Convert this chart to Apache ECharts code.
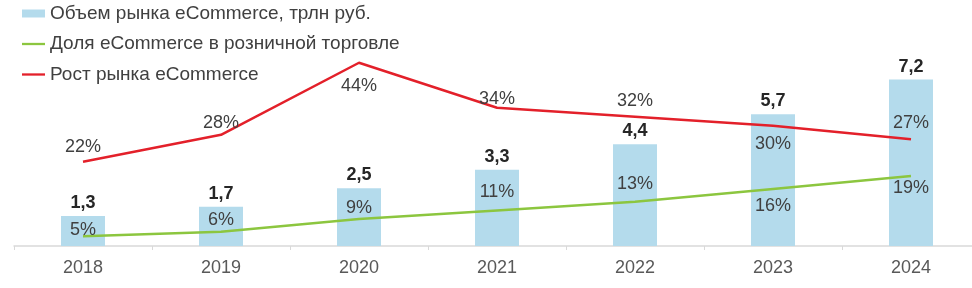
<!DOCTYPE html>
<html>
<head>
<meta charset="utf-8">
<script src="https://cdn.jsdelivr.net/npm/echarts@6/dist/echarts.min.js"></script>
<style>
  html, body { margin: 0; padding: 0; background: #fff; overflow: hidden; }
  /* a bit wider than the window: the right edge of the axis is cut in the original too */
  #chart { width: 980px; height: 288px; }
</style>
</head>
<body>
<div id="chart"></div>
<script>
// data
const years = ['2018', '2019', '2020', '2021', '2022', '2023', '2024'];
const marketVolume = [1.3, 1.7, 2.5, 3.3, 4.4, 5.7, 7.2];   // трлн руб.
const retailShare = [5, 6, 9, 11, 13, 16, 19];               // %
const marketGrowth = [22, 28, 44, 34, 32, 30, 27];           // %

const seriesNames = [
  'Объем рынка eCommerce, трлн руб.',
  'Доля eCommerce в розничной торговле',
  'Рост рынка eCommerce'
];

// label placement (vertical offset from the point, px)
const shareLabelDy = [-6, -12, -11, -18, -18, 17, 12];
const growthLabelDy = [-15, -12, 23, -9, -16, 18, -16];

const FONT = 'Liberation Sans, Arial, sans-serif';
const TEXT = '#404040';

function withLabelOffsets(values, offsets) {
  return values.map((v, i) => ({ value: v, label: { offset: [0, offsets[i]] } }));
}

const myChart = echarts.init(document.getElementById('chart'));

const lineIcon = 'path://M0,0 L24,0 L24,2.4 L0,2.4 Z';

const option = {
  animation: false,
  textStyle: { fontFamily: FONT },
  legend: {
    orient: 'vertical',
    left: 17,
    top: -1,
    itemWidth: 23,
    itemHeight: 8,
    itemGap: 11.5,
    textStyle: { fontSize: 19, color: TEXT, fontFamily: FONT },
    data: [
      { name: seriesNames[0], icon: 'rect' },
      { name: seriesNames[1], icon: lineIcon },
      { name: seriesNames[2], icon: lineIcon }
    ]
  },
  grid: { left: 14, right: 0, top: 38, bottom: 42 },
  xAxis: {
    type: 'category',
    data: years,
    axisLine: { lineStyle: { color: '#d9d9d9', width: 1.5 } },
    axisTick: { show: true, length: 4, lineStyle: { color: '#d9d9d9' } },
    axisLabel: { fontSize: 18, color: '#595959', margin: 13, fontFamily: FONT }
  },
  yAxis: [
    { type: 'value', min: 0, max: 9, show: false, splitLine: { show: false } },
    { type: 'value', min: 2.7, max: 51.2, show: false, splitLine: { show: false } },
    { type: 'value', min: 3.3, max: 49.5, show: false, splitLine: { show: false } }
  ],
  series: [
    {
      name: seriesNames[0],
      type: 'bar',
      yAxisIndex: 0,
      barWidth: 44,
      data: marketVolume,
      itemStyle: { color: '#b4dbec' },
      label: {
        show: true,
        position: 'top',
        distance: 4,
        fontSize: 18,
        fontWeight: 'bold',
        color: '#262626',
        fontFamily: FONT,
        formatter: p => p.value.toFixed(1).replace('.', ',')
      }
    },
    {
      name: seriesNames[1],
      type: 'line',
      yAxisIndex: 1,
      data: withLabelOffsets(retailShare, shareLabelDy),
      symbol: 'circle',
      symbolSize: 0.1,
      itemStyle: { color: '#8cc63f' },
      lineStyle: { color: '#8cc63f', width: 2.5 },
      label: {
        show: true,
        position: 'inside',
        fontSize: 18,
        color: TEXT,
        fontFamily: FONT,
        formatter: p => p.value + '%'
      }
    },
    {
      name: seriesNames[2],
      type: 'line',
      yAxisIndex: 2,
      data: withLabelOffsets(marketGrowth, growthLabelDy),
      symbol: 'circle',
      symbolSize: 0.1,
      itemStyle: { color: '#e3202a' },
      lineStyle: { color: '#e3202a', width: 2.5 },
      label: {
        show: true,
        position: 'inside',
        fontSize: 18,
        color: TEXT,
        fontFamily: FONT,
        formatter: p => p.value + '%'
      }
    }
  ]
};

myChart.setOption(option);
</script>
</body>
</html>
